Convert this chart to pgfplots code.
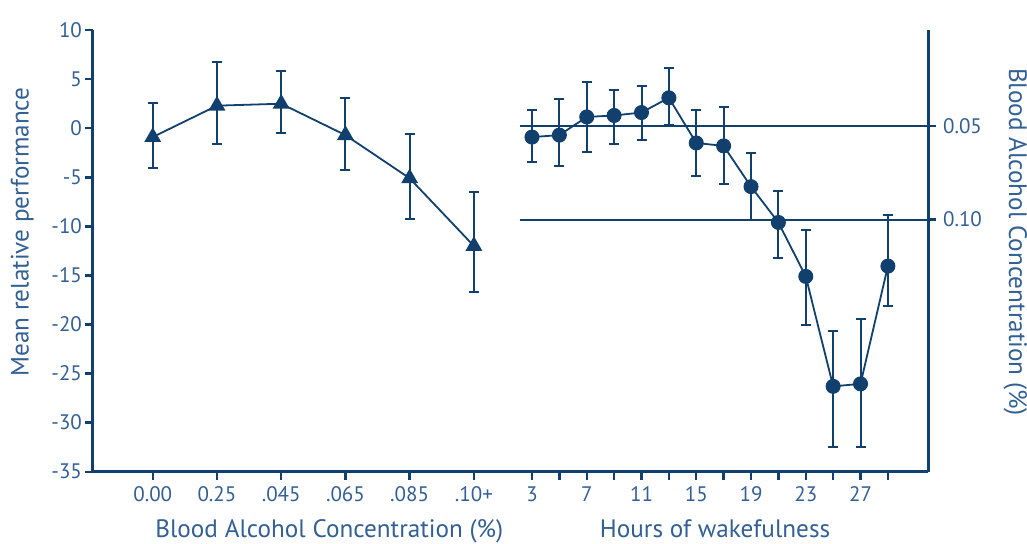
\documentclass[border=0pt]{standalone}
\usepackage{fontspec}
\setmainfont{PT Sans}
\usepackage{pgfplots}
\usepackage{pgfplotstable}
\pgfplotsset{compat=1.18}

\definecolor{navy}{RGB}{17,64,110}
\definecolor{txt}{RGB}{50,95,148}

% blood alcohol: position, mean, error up, error down
\pgfplotstableread{
x  y      ep    em
0  -0.9   3.5   3.2
1   2.3   4.4   3.9
2   2.5   3.3   3.0
3  -0.7   3.8   3.6
4  -5.1   4.5   4.1
5  -12.0  5.5   4.7
}\bac

% hours of wakefulness
\pgfplotstableread{
x   y       ep     em
3   -0.9    2.8    2.5
5   -0.7    3.7    3.1
7    1.15   3.55   3.55
9    1.3    2.6    2.9
11   1.6    2.7    2.8
13   3.1    3.0    2.8
15  -1.5    3.4    3.4
17  -1.8    4.0    3.9
19  -5.95   3.45   3.35
21  -9.6    3.2    3.6
23  -15.1   4.7    5.0
25  -26.3   5.6    6.2
27  -26.05  6.65   6.45
29  -14.05  5.25   4.05
}\wake

\begin{document}
\begin{tikzpicture}
% page = reference frame, axis box corner sits at the origin
\useasboundingbox (-46.5pt,-35.65pt) rectangle ++(513.5pt,271.5pt);
\pgfplotsset{
  common/.style={
    width=417.5pt, height=220.8pt, scale only axis,
    ymin=-35, ymax=10,
    clip=false,
    tick align=outside,
    major tick length=4pt,
    tick style={navy, line width=1.2pt},
    axis line style={navy, line width=1.5pt},
    ticklabel style={font=\fontsize{10.5}{11}\selectfont, text=txt},
    label style={font=\fontsize{12.6}{13}\selectfont, text=txt},
    /pgf/number format/assume math mode=true,
  },
  series/.style={
    navy, line width=0.9pt,
    mark options={solid, fill=navy, draw=navy},
    error bars/y dir=both, error bars/y explicit,
    error bars/error bar style={line width=1pt, navy},
    error bars/error mark options={rotate=90, mark size=2.5pt, line width=1pt, navy},
  },
}

\begin{axis}[common, name=A,
  xmin=-0.93, xmax=12.07,
  axis x line*=bottom, axis y line*=left,
  xtick={0,1,2,3,4,5},
  xticklabels={0.00,0.25,.045,.065,.085,.10+},
  ytick={-35,-30,...,10},
  yticklabel style={xshift=2pt},
  xlabel={Blood Alcohol Concentration (\%)},
  xlabel style={at={(ticklabel cs:0.283)}, anchor=north, yshift=-2pt},
  ylabel={Mean relative performance},
  ylabel style={at={(ticklabel cs:0.543,2pt)}},
]
\addplot[series, mark=triangle*, mark size=4pt]
  table[x=x, y=y, y error plus=ep, y error minus=em] {\bac};
\end{axis}

\begin{axis}[common,
  xmin=-29.07, xmax=31.93,
  axis x line*=bottom, axis y line*=right,
  xtick={3,5,...,29},
  xticklabels={3,,7,,11,,15,,19,,23,,27,},
  ytick={0.2,-9.3}, yticklabels={0.05,0.10},
  xlabel={Hours of wakefulness},
  xlabel style={at={(ticklabel cs:0.745)}, anchor=north, yshift=-2pt},
  ylabel={Blood Alcohol Concentration (\%)},
  ylabel style={at={(ticklabel cs:0.52,4pt)}, rotate=180},
]
\addplot[navy, line width=1pt] coordinates {(2.12,0.2) (31.93,0.2)};
\addplot[navy, line width=1pt] coordinates {(2.12,-9.3) (31.93,-9.3)};
\addplot[series, mark=*, mark size=3.3pt]
  table[x=x, y=y, y error plus=ep, y error minus=em] {\wake};
\end{axis}
\end{tikzpicture}
\end{document}
